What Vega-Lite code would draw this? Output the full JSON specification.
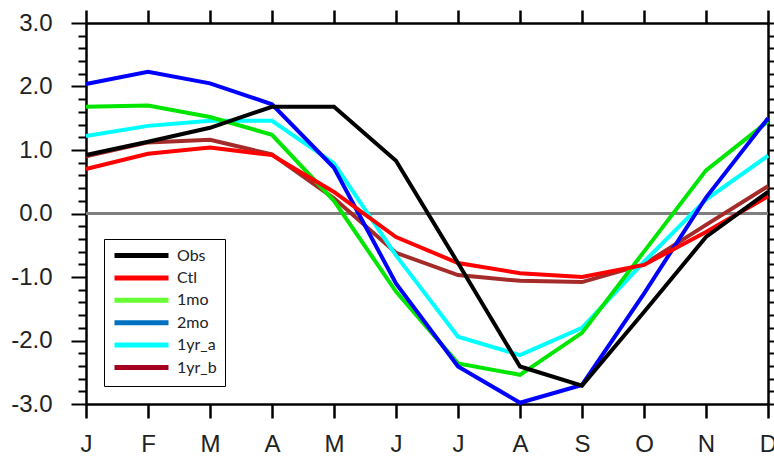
{
  "$schema": "https://vega.github.io/schema/vega-lite/v6.json",
  "width": 682,
  "height": 381,
  "autosize": {"type": "none"},
  "padding": {"left": 86, "top": 23, "right": 6, "bottom": 55},
  "background": "white",
  "config": {"view": {"stroke": null}},
  "data": {"values": [
    {"m":"Jan","s":"1yr_b","v":0.9},{"m":"Feb","s":"1yr_b","v":1.12},{"m":"Mar","s":"1yr_b","v":1.16},{"m":"Apr","s":"1yr_b","v":0.93},{"m":"May","s":"1yr_b","v":0.24},{"m":"Jun","s":"1yr_b","v":-0.62},{"m":"Jul","s":"1yr_b","v":-0.97},{"m":"Aug","s":"1yr_b","v":-1.06},{"m":"Sep","s":"1yr_b","v":-1.08},{"m":"Oct","s":"1yr_b","v":-0.8},{"m":"Nov","s":"1yr_b","v":-0.18},{"m":"Dec","s":"1yr_b","v":0.43},
    {"m":"Jan","s":"1yr_a","v":1.22},{"m":"Feb","s":"1yr_a","v":1.38},{"m":"Mar","s":"1yr_a","v":1.46},{"m":"Apr","s":"1yr_a","v":1.46},{"m":"May","s":"1yr_a","v":0.79},{"m":"Jun","s":"1yr_a","v":-0.66},{"m":"Jul","s":"1yr_a","v":-1.94},{"m":"Aug","s":"1yr_a","v":-2.23},{"m":"Sep","s":"1yr_a","v":-1.8},{"m":"Oct","s":"1yr_a","v":-0.76},{"m":"Nov","s":"1yr_a","v":0.22},{"m":"Dec","s":"1yr_a","v":0.91},
    {"m":"Jan","s":"1mo","v":1.68},{"m":"Feb","s":"1mo","v":1.7},{"m":"Mar","s":"1mo","v":1.52},{"m":"Apr","s":"1mo","v":1.24},{"m":"May","s":"1mo","v":0.2},{"m":"Jun","s":"1mo","v":-1.23},{"m":"Jul","s":"1mo","v":-2.36},{"m":"Aug","s":"1mo","v":-2.54},{"m":"Sep","s":"1mo","v":-1.88},{"m":"Oct","s":"1mo","v":-0.6},{"m":"Nov","s":"1mo","v":0.68},{"m":"Dec","s":"1mo","v":1.45},
    {"m":"Jan","s":"2mo","v":2.04},{"m":"Feb","s":"2mo","v":2.23},{"m":"Mar","s":"2mo","v":2.05},{"m":"Apr","s":"2mo","v":1.72},{"m":"May","s":"2mo","v":0.72},{"m":"Jun","s":"2mo","v":-1.1},{"m":"Jul","s":"2mo","v":-2.41},{"m":"Aug","s":"2mo","v":-2.98},{"m":"Sep","s":"2mo","v":-2.7},{"m":"Oct","s":"2mo","v":-1.26},{"m":"Nov","s":"2mo","v":0.25},{"m":"Dec","s":"2mo","v":1.5},
    {"m":"Jan","s":"Ctl","v":0.7},{"m":"Feb","s":"Ctl","v":0.94},{"m":"Mar","s":"Ctl","v":1.04},{"m":"Apr","s":"Ctl","v":0.92},{"m":"May","s":"Ctl","v":0.34},{"m":"Jun","s":"Ctl","v":-0.37},{"m":"Jul","s":"Ctl","v":-0.78},{"m":"Aug","s":"Ctl","v":-0.94},{"m":"Sep","s":"Ctl","v":-1.0},{"m":"Oct","s":"Ctl","v":-0.81},{"m":"Nov","s":"Ctl","v":-0.29},{"m":"Dec","s":"Ctl","v":0.27},
    {"m":"Jan","s":"Obs","v":0.92},{"m":"Feb","s":"Obs","v":1.13},{"m":"Mar","s":"Obs","v":1.35},{"m":"Apr","s":"Obs","v":1.68},{"m":"May","s":"Obs","v":1.68},{"m":"Jun","s":"Obs","v":0.83},{"m":"Jul","s":"Obs","v":-0.78},{"m":"Aug","s":"Obs","v":-2.41},{"m":"Sep","s":"Obs","v":-2.71},{"m":"Oct","s":"Obs","v":-1.55},{"m":"Nov","s":"Obs","v":-0.37},{"m":"Dec","s":"Obs","v":0.34}
  ]},
  "layer": [
    {
      "mark": {"type": "rule", "color": "#7f7f7f", "strokeWidth": 2},
      "encoding": {"y": {"datum": 0, "type": "quantitative", "axis": null, "scale": {"domain": [-3, 3], "nice": false, "zero": false}}}
    },
    {
      "mark": {"type": "line", "strokeWidth": 2},
      "encoding": {
        "x": {"field": "m", "type": "ordinal", "scale": {"type": "point", "padding": 0, "domain": ["Jan","Feb","Mar","Apr","May","Jun","Jul","Aug","Sep","Oct","Nov","Dec"]},
          "axis": {"orient": "top", "title": null, "labels": false, "tickSize": 13, "tickWidth": 2.5, "tickColor": "black", "domainColor": "black", "domainWidth": 2.5, "grid": false}},
        "y": {"field": "v", "type": "quantitative", "scale": {"domain": [-3, 3], "nice": false, "zero": false},
          "axis": {"orient": "right", "title": null, "labels": false, "grid": false,
            "values": [-3,-2.8,-2.6,-2.4,-2.2,-2,-1.8,-1.6,-1.4,-1.2,-1,-0.8,-0.6,-0.4,-0.2,0,0.2,0.4,0.6,0.8,1,1.2,1.4,1.6,1.8,2,2.2,2.4,2.6,2.8,3],
            "tickSize": 6, "tickWidth": 2, "tickColor": "black", "domainColor": "black", "domainWidth": 2.5}},
        "color": {"field": "s", "type": "nominal",
          "scale": {"domain": ["Obs","Ctl","1mo","2mo","1yr_a","1yr_b"], "range": ["#000000","#ff0000","#66ff33","#0070c0","#00ffff","#a50021"]},
          "legend": {"title": null, "orient": "bottom-left", "offset": 18, "strokeColor": "black", "fillColor": "white", "padding": 8, "symbolType": "M-1,0H8", "symbolStrokeWidth": 5, "symbolSize": 144, "symbolOpacity": 1, "labelFont": "Lato", "labelFontSize": 16, "labelColor": "#222", "labelOffset": 48, "rowPadding": 1.4, "labelLimit": 200}}
      }
    },
    {
      "mark": {"type": "line", "strokeWidth": 4, "strokeJoin": "miter"},
      "encoding": {
        "x": {"field": "m", "type": "ordinal",
          "axis": {"orient": "bottom", "title": null, "labelAngle": 0, "labelExpr": "substring(datum.label,0,1)", "labelFont": "Liberation Sans", "labelFontSize": 24, "labelColor": "#222", "labelPadding": 14, "tickSize": 14, "tickWidth": 2.5, "tickColor": "black", "domainColor": "black", "domainWidth": 2.5, "grid": false}},
        "y": {"field": "v", "type": "quantitative",
          "axis": {"orient": "left", "title": null, "grid": false,
            "values": [-3,-2.8,-2.6,-2.4,-2.2,-2,-1.8,-1.6,-1.4,-1.2,-1,-0.8,-0.6,-0.4,-0.2,0,0.2,0.4,0.6,0.8,1,1.2,1.4,1.6,1.8,2,2.2,2.4,2.6,2.8,3],
            "labelExpr": "abs(datum.value - round(datum.value)) < 0.01 ? (datum.value < -0.01 ? '-' : '') + format(abs(datum.value), '.1f') : ''",
            "tickSize": {"condition": {"test": "abs(datum.value - round(datum.value)) < 0.01", "value": 15}, "value": 8},
            "tickWidth": 2, "tickColor": "black", "domainColor": "black", "domainWidth": 2.5,
            "labelFont": "Liberation Sans", "labelFontSize": 24, "labelColor": "#222", "labelPadding": 19, "labelBound": false, "labelOverlap": false, "labelFlush": false}},
        "stroke": {"field": "s", "type": "nominal", "legend": null,
          "scale": {"domain": ["Obs","Ctl","1mo","2mo","1yr_a","1yr_b"], "range": ["#000000","#ff0000","#00e600","#0000ff","#00ffff","#a52a2a"]}}
      }
    }
  ],
  "resolve": {"axis": {"x": "independent", "y": "independent"}}
}
